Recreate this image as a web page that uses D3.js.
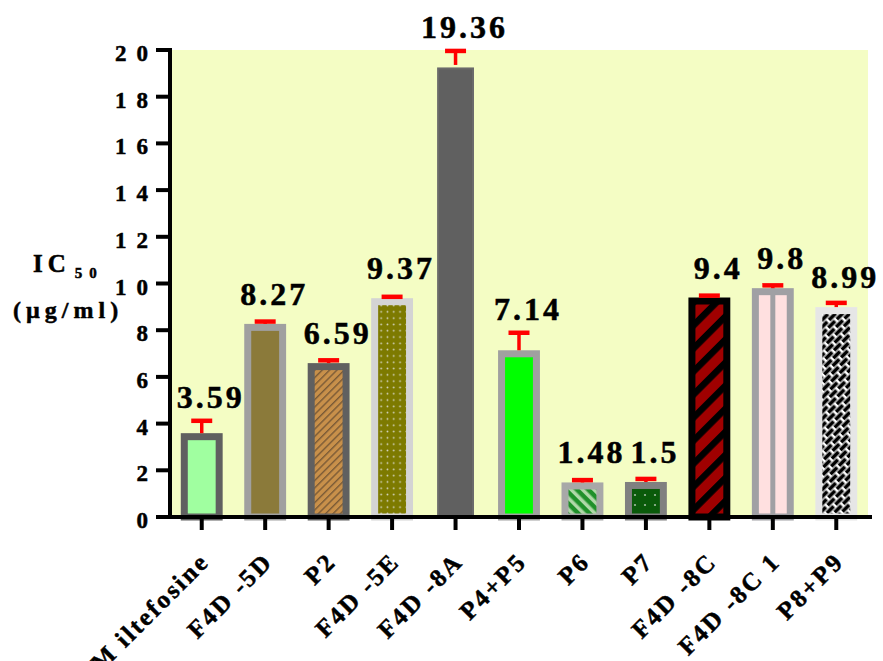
<!DOCTYPE html>
<html><head><meta charset="utf-8">
<script src="https://cdn.jsdelivr.net/npm/d3@7/dist/d3.min.js"></script>
<style>
html,body{margin:0;padding:0;background:#fff;}
svg text{font-family:"Liberation Serif","Times New Roman",serif;font-weight:bold;stroke:#000;stroke-width:0.5px;}
</style></head>
<body><svg id="c" width="883" height="661"></svg>
<script>
const categories = ["Miltefosine","F4D-5D","P2","F4D-5E","F4D-8A","P4+P5","P6","P7","F4D-8C","F4D-8C1","P8+P9"];
const xLabels = ["M iltefosine","F4D -5D","P2","F4D -5E","F4D -8A","P4+P5","P6","P7","F4D -8C","F4D -8C 1","P8+P9"];
const values = [3.59,8.27,6.59,9.37,19.36,7.14,1.48,1.5,9.4,9.8,8.99];
const errors = [0.53,0.1,0.12,0.06,0.6,0.75,0.1,0.13,0.08,0.12,0.18];
const valueLabels = ["3.59","8.27","6.59","9.37","19.36","7.14","1.48","1.5","9.4","9.8","8.99"];
const yTicks = [0,2,4,6,8,10,12,14,16,18,20];

// styles (per bar): border colour, fill / pattern id
const strokes = ["#606060","#a0a0a0","#606060","#d4d4d4","#6a6a6a","#a0a0a0","#a8a8a8","#808080","#000000","#a0a0a4","#e6e6e6"];
const fills = ["#a0ffa0","#8b7a3a","url(#pP2)","url(#p5E)","#606060","#00ff00","url(#pP6)","url(#pP7)","url(#p8C)","#ffe0e0","url(#pBrick)"];

const svg = d3.select("#c");
const M = {left:170, right:868, top:50, bottom:517};

const x = d3.scaleBand().domain(categories).range([M.left, M.right]).paddingInner(0.34).paddingOuter(0.17);
const y = d3.scaleLinear().domain([0,20]).range([M.bottom, M.top]);

// patterns
const defs = svg.append("defs");
function stripe(id, base, col, w, period, angle){
  const p = defs.append("pattern").attr("id",id).attr("patternUnits","userSpaceOnUse")
    .attr("width",period).attr("height",period).attr("patternTransform",`rotate(${angle})`);
  p.append("rect").attr("width",period).attr("height",period).attr("fill",base);
  p.append("rect").attr("x",0).attr("y",0).attr("width",w).attr("height",period).attr("fill",col);
}
function dots(id, base, col, period, r){
  const p = defs.append("pattern").attr("id",id).attr("patternUnits","userSpaceOnUse")
    .attr("width",period).attr("height",period);
  p.append("rect").attr("width",period).attr("height",period).attr("fill",base);
  p.append("circle").attr("cx",period/2).attr("cy",period/2).attr("r",r).attr("fill",col);
}
stripe("pP2","#c8904a","#7a5a36",1.4,5.2,45);
dots("p5E","#7d7a00","#d8d8c8",6.3,0.9);
stripe("pP6","#20902a","#b0d8a8",3.5,8,-45);
dots("pP7","#0a5a0a","#9fb89f",10,1.1);
stripe("p8C","#a00000","#000000",6.5,16.3,45);
{
  const p = defs.append("pattern").attr("id","pBrick").attr("patternUnits","userSpaceOnUse")
    .attr("width",12).attr("height",10).attr("patternTransform","rotate(-45)");
  p.append("rect").attr("width",12).attr("height",10).attr("fill","#ffffff");
  p.append("rect").attr("x",0).attr("y",0.6).attr("width",9.5).attr("height",3.8).attr("fill","#000");
  p.append("rect").attr("x",6).attr("y",5.6).attr("width",9.5).attr("height",3.8).attr("fill","#000");
  p.append("rect").attr("x",-6).attr("y",5.6).attr("width",9.5).attr("height",3.8).attr("fill","#000");
}

// plot background
svg.append("rect").attr("x",M.left).attr("y",M.top).attr("width",M.right-M.left).attr("height",M.bottom-M.top).attr("fill","#f4fdc4");

const bw = x.bandwidth();
const sw = 7;
const data = categories.map((c,i)=>({c,i,v:values[i],e:errors[i],lab:valueLabels[i],xl:xLabels[i]}));

// bars
const g = svg.append("g");
g.selectAll("rect.bar").data(data).join("rect").attr("class","bar")
  .attr("x",d=>x(d.c)+sw/2).attr("width",bw-sw)
  .attr("y",d=>y(d.v)+sw/2).attr("height",d=>y(0)-y(d.v)-sw/2)
  .attr("fill",d=>fills[d.i]).attr("stroke",d=>strokes[d.i]).attr("stroke-width",d=>d.c==="F4D-8A"?2:sw);
// centre divider of F4D-8C1
g.selectAll("rect.div").data(data.filter(d=>d.c==="F4D-8C1")).join("rect").attr("class","div")
  .attr("x",d=>x(d.c)+bw/2-2.5).attr("width",5).attr("y",d=>y(d.v)).attr("height",d=>y(0)-y(d.v))
  .attr("fill",d=>strokes[d.i]);

// error bars
const eb = svg.append("g");
eb.selectAll("line.v").data(data).join("line")
  .attr("x1",d=>x(d.c)+bw/2).attr("x2",d=>x(d.c)+bw/2)
  .attr("y1",d=>y(d.v)).attr("y2",d=>y(d.v+d.e))
  .attr("stroke","#ff0000").attr("stroke-width",3.5);
eb.selectAll("line.cap").data(data).join("line")
  .attr("x1",d=>x(d.c)+bw/2-10.5).attr("x2",d=>x(d.c)+bw/2+10.5)
  .attr("y1",d=>y(d.v+d.e)).attr("y2",d=>y(d.v+d.e))
  .attr("stroke","#ff0000").attr("stroke-width",4.5);

// axes
const ax = svg.append("g");
ax.append("line").attr("x1",M.left).attr("x2",M.left).attr("y1",M.top-2).attr("y2",M.bottom+2).attr("stroke","#000").attr("stroke-width",4);
ax.append("line").attr("x1",M.left-2).attr("x2",M.right+4).attr("y1",M.bottom).attr("y2",M.bottom).attr("stroke","#000").attr("stroke-width",4);
ax.selectAll("line.yt").data(yTicks).join("line")
  .attr("x1",M.left-14).attr("x2",M.left).attr("y1",d=>y(d)).attr("y2",d=>y(d)).attr("stroke","#000").attr("stroke-width",4);
ax.selectAll("text.yt").data(yTicks).join("text")
  .attr("x",M.left-12).attr("y",d=>y(d)+11).attr("text-anchor","end")
  .attr("font-size",23).attr("letter-spacing","10px").text(d=>String(d));
ax.selectAll("line.xt").data(data).join("line")
  .attr("x1",d=>x(d.c)+bw/2).attr("x2",d=>x(d.c)+bw/2).attr("y1",M.bottom).attr("y2",M.bottom+13)
  .attr("stroke","#000").attr("stroke-width",4);
ax.selectAll("text.xl").data(data).join("text")
  .attr("transform",d=>`translate(${x(d.c)+bw/2+9},${M.bottom+46}) rotate(-45)`)
  .attr("text-anchor","end").attr("font-size",25).attr("letter-spacing","2.5px")
  .text(d=>d.xl);

// value labels
svg.append("g").selectAll("text").data(data).join("text")
  .attr("x",d=>x(d.c)+bw/2+9).attr("y",d=>Math.min(y(d.v)-19, y(d.v+d.e)-13))
  .attr("text-anchor","middle").attr("font-size",32).attr("letter-spacing","3px").attr("fill","#000")
  .text(d=>d.lab);

// y axis title
const t1 = svg.append("text").attr("x",33).attr("y",272).attr("font-size",25).attr("letter-spacing","5px");
t1.append("tspan").text("IC");
t1.append("tspan").attr("font-size",15).attr("dy",6).attr("dx",4).attr("letter-spacing","7px").text("50");
svg.append("text").attr("x",13).attr("y",318).attr("font-size",24).attr("letter-spacing","5px").text("(µg/ml)");
</script></body></html>
